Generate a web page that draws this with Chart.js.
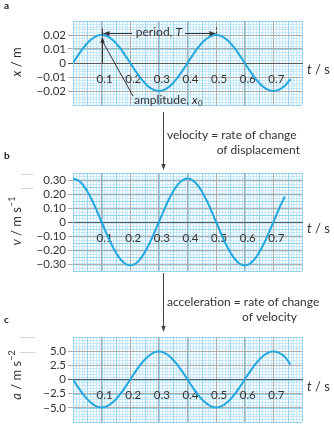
<!DOCTYPE html>
<html>
<head>
<meta charset="utf-8">
<script src="https://cdn.jsdelivr.net/npm/chart.js@4.4.1/dist/chart.umd.min.js"></script>
<style>
  html, body { margin: 0; padding: 0; background: #fff; }
  #wrap { position: relative; width: 334px; height: 426px; overflow: hidden; }
  canvas { position: absolute; left: 0; top: 0; }
</style>
</head>
<body>
<div id="wrap">
  <canvas id="chartA" width="334" height="426"></canvas>
  <canvas id="chartB" width="334" height="426"></canvas>
  <canvas id="chartC" width="334" height="426"></canvas>
</div>
<script>
// ---- data -------------------------------------------------------------
// time samples (s)
const timeA = [0, 0.02, 0.04, 0.06, 0.08, 0.10, 0.12, 0.14, 0.16, 0.18,
               0.20, 0.22, 0.24, 0.26, 0.28, 0.30, 0.32, 0.34, 0.36, 0.38,
               0.40, 0.42, 0.44, 0.46, 0.48, 0.50, 0.52, 0.54, 0.56, 0.58,
               0.60, 0.62, 0.64, 0.66, 0.68, 0.70, 0.72, 0.74, 0.76];
// displacement x (m)
const displacement = [0, 0.0062, 0.0118, 0.0162, 0.0190, 0.0200, 0.0190, 0.0162, 0.0118, 0.0062,
                      0, -0.0062, -0.0118, -0.0162, -0.0190, -0.0200, -0.0190, -0.0162, -0.0118, -0.0062,
                      0, 0.0062, 0.0118, 0.0162, 0.0190, 0.0200, 0.0190, 0.0162, 0.0118, 0.0062,
                      0, -0.0062, -0.0118, -0.0162, -0.0190, -0.0200, -0.0190, -0.0162, -0.0116];

const timeB = [0, 0.02, 0.04, 0.06, 0.08, 0.10, 0.12, 0.14, 0.16, 0.18,
               0.20, 0.22, 0.24, 0.26, 0.28, 0.30, 0.32, 0.34, 0.36, 0.38,
               0.40, 0.42, 0.44, 0.46, 0.48, 0.50, 0.52, 0.54, 0.56, 0.58,
               0.60, 0.62, 0.64, 0.66, 0.68, 0.70, 0.72, 0.74];
// velocity v (m/s)
const velocity = [0.310, 0.295, 0.251, 0.182, 0.096, 0, -0.096, -0.182, -0.251, -0.295,
                  -0.310, -0.295, -0.251, -0.182, -0.096, 0, 0.096, 0.182, 0.251, 0.295,
                  0.310, 0.295, 0.251, 0.182, 0.096, 0, -0.096, -0.182, -0.251, -0.295,
                  -0.310, -0.295, -0.251, -0.182, -0.096, 0, 0.096, 0.182];

const timeC = timeA;
// acceleration a (m/s^2)
const acceleration = [0, -1.52, -2.90, -3.99, -4.69, -4.93, -4.69, -3.99, -2.90, -1.52,
                      0, 1.52, 2.90, 3.99, 4.69, 4.93, 4.69, 3.99, 2.90, 1.52,
                      0, -1.52, -2.90, -3.99, -4.69, -4.93, -4.69, -3.99, -2.90, -1.52,
                      0, 1.52, 2.90, 3.99, 4.69, 4.93, 4.69, 3.99, 2.6];

// tick values
const timeTicks = [0, 0.1, 0.2, 0.3, 0.4, 0.5, 0.6, 0.7, 0.8];
const dispTicks = [-0.02, -0.01, 0, 0.01, 0.02];
const velTicks = [-0.3, -0.2, -0.1, 0, 0.1, 0.2, 0.3];
const accTicks = [-5, -2.5, 0, 2.5, 5];

// ---- styling ----------------------------------------------------------
const FONT = 'Lato, "Open Sans", sans-serif';
const TEXT = '#333';
const CURVE = '#22a7df';
const GRID_GRAY = '#adadad';
const ZERO = '#5a5a5a';
const MINOR = '#c6e8f8';
const MID = '#95d4f1';
const NOTE = 12;

function minus(s) { return s.replace('-', '\u2212'); }

// light blue graph-paper grid behind everything
const graphPaper = {
  id: 'graphPaper',
  beforeDraw(chart, args, opts) {
    const { ctx, chartArea: a, scales: { x, y } } = chart;
    ctx.save();
    ctx.lineWidth = 1;
    const lines = (scale, min, max, step, color, vertical) => {
      const n = Math.round((max - min) / step);
      ctx.strokeStyle = color;
      ctx.beginPath();
      for (let i = 0; i <= n; i++) {
        const p = Math.round(scale.getPixelForValue(min + i * step)) + 0.5;
        if (vertical) { ctx.moveTo(p, a.top); ctx.lineTo(p, a.bottom); }
        else { ctx.moveTo(a.left, p); ctx.lineTo(a.right, p); }
      }
      ctx.stroke();
    };
    lines(x, x.min, x.max, opts.xMinor, MINOR, true);
    lines(y, y.min, y.max, opts.yMinor, MINOR, false);
    lines(x, x.min, x.max, opts.xMid, MID, true);
    lines(y, y.min, y.max, opts.yMid, MID, false);
    ctx.restore();
  }
};

// rich text: segments [{t, italic, sup, sub}] drawn left to right
function richWidth(ctx, segs, size) {
  let w = 0;
  for (const s of segs) {
    const sz = (s.sup || s.sub) ? size * 0.7 : size;
    ctx.font = (s.italic ? 'italic ' : '') + sz + 'px ' + FONT;
    w += ctx.measureText(s.t).width;
  }
  return w;
}
function drawRich(ctx, segs, x, y, size, align) {
  const w = richWidth(ctx, segs, size);
  let cx = align === 'center' ? x - w / 2 : (align === 'right' ? x - w : x);
  ctx.textBaseline = 'middle';
  ctx.textAlign = 'left';
  for (const s of segs) {
    const sz = (s.sup || s.sub) ? size * 0.7 : size;
    ctx.font = (s.italic ? 'italic ' : '') + sz + 'px ' + FONT;
    const dy = s.sup ? -size * 0.38 : (s.sub ? size * 0.3 : 0);
    ctx.fillText(s.t, cx, y + dy);
    cx += ctx.measureText(s.t).width;
  }
}
function arrowHead(ctx, x, y, ang, len = 6, half = 2.4) {
  ctx.save();
  ctx.translate(x, y);
  ctx.rotate(ang);
  ctx.beginPath();
  ctx.moveTo(0, 0);
  ctx.lineTo(-len, -half);
  ctx.lineTo(-len, half);
  ctx.closePath();
  ctx.fill();
  ctx.restore();
}

// axis titles, panel letter and "t / s" for every panel
const panelText = {
  id: 'panelText',
  afterDraw(chart, args, o) {
    const { ctx, chartArea: a, scales: { y } } = chart;
    const y0 = y.getPixelForValue(0);
    ctx.save();
    ctx.fillStyle = '#222';
    ctx.font = 'bold 10px ' + FONT;
    ctx.textAlign = 'left';
    ctx.textBaseline = 'middle';
    ctx.fillText(o.letter, 4, o.letterY);
    ctx.fillStyle = TEXT;
    drawRich(ctx, [{ t: 't', italic: true }, { t: ' / s' }], a.right + 5, y0 + 7, 13, 'left');
    ctx.save();
    ctx.translate(17, o.titleY);
    ctx.rotate(-Math.PI / 2);
    drawRich(ctx, o.title, 0, 0, 13, 'center');
    ctx.restore();
    ctx.restore();
  }
};

// period and amplitude notes on the displacement graph
const notesA = {
  id: 'notesA',
  afterDraw(chart) {
    const { ctx, scales: { x, y } } = chart;
    const px = v => x.getPixelForValue(v);
    const py = v => y.getPixelForValue(v);
    ctx.save();
    ctx.strokeStyle = '#333';
    ctx.fillStyle = '#333';
    ctx.lineWidth = 1;
    // period, T
    const yp = Math.round(py(0.0215)) + 0.5;
    const xl = Math.round(px(0.1)) + 0.5, xr = Math.round(px(0.5)) + 0.5;
    ctx.beginPath();
    ctx.moveTo(xl, yp - 5); ctx.lineTo(xl, py(0.019));
    ctx.moveTo(xl + 1, yp); ctx.lineTo(132, yp);
    ctx.moveTo(185, yp); ctx.lineTo(xr - 1, yp);
    ctx.stroke();
    ctx.setLineDash([2, 2]);
    ctx.beginPath();
    ctx.moveTo(xr, yp - 6); ctx.lineTo(xr, py(0.0195));
    ctx.stroke();
    ctx.setLineDash([]);
    arrowHead(ctx, xl + 1, yp, Math.PI);
    arrowHead(ctx, xr - 1, yp, 0);
    ctx.fillStyle = TEXT;
    drawRich(ctx, [{ t: 'period, ' }, { t: 'T', italic: true }], px(0.3), yp - 1, NOTE, 'center');
    // amplitude, x0
    ctx.fillStyle = '#333';
    ctx.beginPath();
    ctx.moveTo(xl, py(0)); ctx.lineTo(xl, py(0.0175));
    ctx.moveTo(px(0.1046), py(0.015)); ctx.lineTo(px(0.21), py(-0.0237));
    ctx.stroke();
    arrowHead(ctx, xl, py(0.0187), -Math.PI / 2, 6, 2.2);
    ctx.fillStyle = TEXT;
    drawRich(ctx, [{ t: 'amplitude, ' }, { t: 'x', italic: true }, { t: '0', sub: true }], 134, 100, NOTE, 'left');
    ctx.restore();
  }
};

// arrow + caption leading into a panel from the one above
function linkNote(id, topY, botY, line1, line1X, line1Y, line2, line2X, line2Y, marks) {
  return {
    id,
    afterDraw(chart) {
      const { ctx, scales: { x } } = chart;
      const ax = Math.round(x.getPixelForValue(0.313)) + 0.5;
      ctx.save();
      ctx.strokeStyle = '#444';
      ctx.fillStyle = '#444';
      ctx.lineWidth = 1;
      ctx.beginPath();
      ctx.moveTo(ax, topY); ctx.lineTo(ax, botY - 4);
      ctx.stroke();
      arrowHead(ctx, ax, botY, Math.PI / 2, 6, 2.2);
      ctx.fillStyle = TEXT;
      drawRich(ctx, [{ t: line1 }], line1X, line1Y, NOTE, 'left');
      drawRich(ctx, [{ t: line2 }], line2X, line2Y, NOTE, 'right');
      // faint marks at the upper left
      ctx.strokeStyle = '#d6d6d6';
      ctx.beginPath();
      for (const m of marks) { ctx.moveTo(m[0], m[2] + 0.5); ctx.lineTo(m[1], m[2] + 0.5); }
      ctx.stroke();
      ctx.restore();
    }
  };
}

function makePanel(id, times, values, cfg) {
  const points = times.map((t, i) => ({ x: t, y: values[i] }));
  return new Chart(document.getElementById(id), {
    type: 'line',
    data: {
      datasets: [{
        data: points,
        borderColor: CURVE,
        borderWidth: 2,
        pointRadius: 0,
        tension: 0.4,
        fill: false
      }]
    },
    options: {
      responsive: false,
      animation: false,
      devicePixelRatio: 1,
      layout: { padding: { left: 0, right: 32, top: cfg.top, bottom: cfg.bottom } },
      plugins: {
        legend: { display: false },
        tooltip: { enabled: false },
        graphPaper: cfg.paper,
        panelText: cfg.text
      },
      scales: {
        x: {
          type: 'linear',
          min: 0, max: 0.8,
          position: { y: 0 },
          afterBuildTicks: s => { s.ticks = timeTicks.map(v => ({ value: v })); },
          afterFit: s => { s.paddingLeft = 0; s.paddingRight = 0; s.paddingTop = 0; s.paddingBottom = 0; },
          grid: {
            color: c => (c.tick && (c.tick.value === 0 || c.tick.value === 0.8)) ? MID : GRID_GRAY,
            drawTicks: false,
            lineWidth: 1
          },
          border: { color: ZERO, width: 1 },
          ticks: {
            autoSkip: false,
            maxRotation: 0,
            padding: 9,
            labelOffset: 3,
            color: TEXT,
            font: { family: FONT, size: 11.5 },
            callback: v => (v > 0.05 && v < 0.75) ? v.toFixed(1) : ''
          }
        },
        y: {
          type: 'linear',
          min: cfg.min, max: cfg.max,
          position: 'left',
          afterBuildTicks: s => { s.ticks = cfg.ticks.map(v => ({ value: v })); },
          afterFit: s => { s.width = 73; s.paddingTop = 0; s.paddingBottom = 0; },
          grid: {
            color: c => (c.tick && c.tick.value === 0) ? ZERO : GRID_GRAY,
            tickLength: 5,
            lineWidth: 1
          },
          border: { color: MID },
          ticks: {
            autoSkip: false,
            padding: 2,
            color: TEXT,
            font: { family: FONT, size: 11.5 },
            callback: v => v === 0 ? '0' : minus(v.toFixed(cfg.digits))
          }
        }
      }
    },
    plugins: [graphPaper, panelText].concat(cfg.extra || [])
  });
}

makePanel('chartA', timeA, displacement, {
  min: -0.03, max: 0.03, ticks: dispTicks, digits: 2,
  top: 21, bottom: 426 - 105,
  paper: { xMinor: 0.01, xMid: 0.05, yMinor: 0.002, yMid: 0.01 },
  text: { letter: 'a', letterY: 6, titleY: 62,
          title: [{ t: 'x', italic: true }, { t: ' / m' }] },
  extra: [notesA]
});

makePanel('chartB', timeB, velocity, {
  min: -0.35, max: 0.35, ticks: velTicks, digits: 2,
  top: 173, bottom: 426 - 271,
  paper: { xMinor: 0.01, xMid: 0.05, yMinor: 0.02, yMid: 0.1 },
  text: { letter: 'b', letterY: 156, titleY: 221,
          title: [{ t: 'v', italic: true }, { t: ' / m s' }, { t: '\u22121', sup: true }] },
  extra: [linkNote('linkB', 112, 170, 'velocity = rate of change', 167, 135,
                   'of displacement', 300, 150, [[21, 33, 174], [21, 33, 188]])]
});

makePanel('chartC', timeC, acceleration, {
  min: -7.5, max: 7.5, ticks: accTicks, digits: 1,
  top: 337, bottom: 426 - 422,
  paper: { xMinor: 0.01, xMid: 0.05, yMinor: 0.5, yMid: 2.5 },
  text: { letter: 'c', letterY: 320, titleY: 375,
          title: [{ t: 'a', italic: true }, { t: ' / m s' }, { t: '\u22122', sup: true }] },
  extra: [linkNote('linkC', 273, 332, 'acceleration = rate of change', 167, 302,
                   'of velocity', 297, 317, [[20, 35, 337], [20, 35, 352]])]
});
</script>
</body>
</html>
